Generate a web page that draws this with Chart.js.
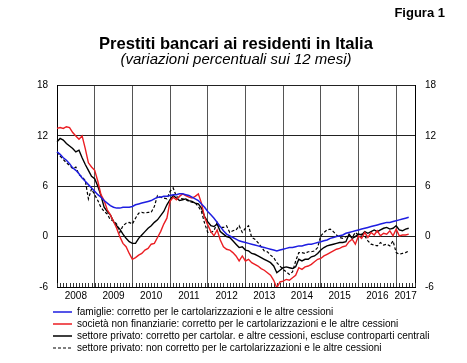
<!DOCTYPE html>
<html lang="it">
<head>
	<title>Prestiti bancari ai residenti in Italia</title>
	<meta charset="utf-8">
	<script src="https://cdnjs.cloudflare.com/ajax/libs/Chart.js/4.4.1/chart.umd.min.js"></script>
	<style type="text/css">
		body { margin: 0; background: #fff; }
		#wrap { position: relative; width: 467px; height: 363px; }
		#figura {
			position: absolute; right: 22px; top: 5px;
			font: bold 13px "Liberation Sans", Arial, sans-serif; color: #000;
		}
	</style>
</head>
<body>
<div id="wrap">
	<div id="figura">Figura 1</div>
	<canvas id="prestiti-canvas" width="467" height="363"></canvas>
</div>
<script type="text/javascript">
	// anni e mesi dell'asse orizzontale (gen 2008 - lug 2017)
	var anni = ["2008", "2009", "2010", "2011", "2012", "2013", "2014", "2015", "2016", "2017"];
	var mesi = ["gen", "feb", "mar", "apr", "mag", "giu", "lug", "ago", "set", "ott", "nov", "dic"];
	// posizione (indice del mese) dell'etichetta di ogni anno
	var posAnni = [6, 18, 30, 42, 54, 66, 78, 90, 102, 111];
	var yTicks = [-6, 0, 6, 12, 18];

	// variazioni percentuali sui 12 mesi, dati mensili da gen 2008 a mag 2017
	var famiglie = [
		10.1, 9.8, 9.4, 9.1, 8.7, 8.2, 7.9, 7.5, 7.0, 6.6, 6.2, 5.8,
		5.4, 5.0, 4.7, 4.3, 4.0, 3.7, 3.5, 3.4, 3.4, 3.5, 3.5, 3.5,
		3.6, 3.8, 3.9, 4.0, 4.1, 4.2, 4.3, 4.5, 4.7, 4.7, 4.8, 4.8,
		4.9, 5.0, 5.0, 5.1, 5.1, 5.0, 4.9, 4.7, 4.5, 4.3, 3.9, 3.5,
		3.0, 2.6, 2.2, 1.7, 1.2, 0.7, 0.3, 0.1, -0.1, -0.3, -0.5, -0.6,
		-0.7, -0.8, -0.9, -1.0, -1.1, -1.2, -1.3, -1.4, -1.5, -1.6, -1.7, -1.6,
		-1.5, -1.4, -1.3, -1.3, -1.2, -1.1, -1.1, -1.0, -0.9, -0.9, -0.8, -0.7,
		-0.6, -0.5, -0.4, -0.2, -0.1, 0.0, 0.1, 0.2, 0.4, 0.5, 0.6, 0.7,
		0.8, 0.9, 1.0, 1.1, 1.2, 1.3, 1.4, 1.5, 1.6, 1.7, 1.7, 1.8,
		1.9, 2.0, 2.1, 2.2, 2.3
	];
	var societa = [
		12.9, 13.0, 12.9, 13.1, 13.0, 12.4, 12.0, 11.6, 12.0, 10.5, 8.8, 8.3,
		7.9, 6.6, 5.0, 4.3, 3.2, 2.6, 1.8, 1.0, 0.0, -0.8, -1.2, -2.0,
		-2.7, -2.5, -2.2, -2.0, -1.6, -1.4, -0.9, -0.8, -0.1, 0.6, 1.5, 2.2,
		4.2, 4.7, 4.4, 4.8, 5.1, 4.9, 4.7, 4.6, 4.8, 5.1, 4.0, 2.3,
		1.4, 0.6, 0.1, 0.8, -0.4, -1.2, -1.5, -1.6, -1.9, -2.3, -2.9, -2.3,
		-2.9, -2.7, -3.1, -3.3, -3.5, -3.8, -4.0, -4.3, -4.6, -5.2, -6.1, -5.4,
		-5.3, -5.1, -5.2, -4.9, -4.6, -3.7, -3.9, -3.6, -3.5, -3.3, -3.0, -2.7,
		-2.6, -2.3, -2.1, -1.9, -1.7, -1.5, -1.4, -1.2, -1.1, -0.6, -0.3, -0.9,
		0.1, -0.2, 0.5, -0.1, 0.5, 0.2, 0.7, 0.1, 0.4, 0.3, 0.7, 0.1,
		0.9, 0.1, 0.2, 0.2, 0.3
	];
	var privatoCorretto = [
		11.3, 11.7, 11.5, 11.1, 10.8, 10.5, 10.1, 10.3, 9.4, 8.6, 7.9, 7.2,
		6.9, 6.0, 4.9, 3.5, 3.0, 2.6, 1.8, 1.3, 0.9, 0.3, -0.2, -0.6,
		-0.8, -0.8, -0.2, 0.2, 0.6, 1.0, 1.3, 1.7, 2.0, 2.5, 3.0, 3.8,
		4.4, 4.9, 4.6, 4.3, 4.4, 4.5, 4.3, 4.2, 4.0, 3.9, 3.4, 2.4,
		1.8, 1.3, 1.2, 1.5, 0.6, 0.3, 0.0, -0.1, -0.5, -0.9, -1.3, -1.2,
		-1.6, -1.7, -2.0, -2.1, -2.3, -2.5, -2.7, -2.9, -3.1, -3.5, -4.3, -4.0,
		-3.7, -3.6, -3.7, -3.8, -3.6, -2.7, -2.9, -2.7, -2.7, -2.4, -2.3, -2.0,
		-1.6, -1.3, -1.1, -1.0, -0.9, -0.8, -0.7, -0.7, -0.6, 0.3, -0.2, 0.0,
		0.3, 0.2, 0.6, 0.4, 0.6, 0.8, 0.6, 0.8, 1.0, 1.1, 0.9, 1.0,
		1.3, 0.8, 0.7, 0.9, 1.0
	];
	var privatoNonCorretto = [
		10.1, 9.6, 9.2, 8.8, 8.5, 8.1, 8.3, 7.4, 7.1, 6.7, 4.5, 5.7,
		5.0, 4.3, 3.5, 3.0, 2.7, 2.0, 1.9, 1.5, 0.5, 1.3, 1.6, 1.7,
		1.5, 2.2, 2.8, 2.9, 2.8, 2.9, 2.9, 3.6, 4.9, 4.7, 4.6, 4.5,
		5.4, 5.8, 4.8, 4.6, 4.5, 4.4, 4.2, 4.1, 4.0, 3.6, 3.0, 1.6,
		0.5, 0.5, 0.7, 1.7, 1.1, 1.1, 1.3, 0.5, 0.7, 0.8, 1.3, 0.5,
		1.0, 1.3, -0.1, -0.3, -0.7, -1.2, -1.7, -1.8, -2.2, -2.5, -3.1, -3.5,
		-3.9, -4.2, -4.5, -4.2, -2.9, -1.9, -1.9, -2.0, -1.8, -1.8, -1.7, -1.3,
		0.1, 0.5, 0.8, 0.9, 0.6, 0.2, -0.1, -0.2, 0.0, 0.1, -0.1, 0.5,
		0.2, 0.3, 0.1, -0.5, -0.9, -1.0, -1.1, -0.7, -1.0, -0.9, -1.1, -0.5,
		-1.9, -2.1, -2.0, -1.9, -1.7
	];

	// categorie mensili: gen 2008 ... lug 2017 (l'asse finisce a metà 2017)
	var categorie = [];
	anni.forEach(function(anno) {
		mesi.forEach(function(mese) {
			categorie.push(mese + " " + anno);
		});
	});
	categorie.length = 115;

	var FONT = "'Liberation Sans', Arial, sans-serif";
	Chart.defaults.font.family = FONT;
	Chart.defaults.color = "#000";

	// piccole tacche mensili sul bordo inferiore, rivolte verso l'interno
	var tacchePlugin = {
		id: "tacche",
		beforeDatasetsDraw: function(chart) {
			var x = chart.scales.x;
			var ctx = chart.ctx;
			var bottom = chart.chartArea.bottom;
			ctx.save();
			ctx.strokeStyle = "#333";
			ctx.lineWidth = 1;
			ctx.beginPath();
			for (var i = 0; i < x.ticks.length; i++) {
				var px = Math.round(x.getPixelForTick(i)) + 0.5;
				ctx.moveTo(px, bottom);
				ctx.lineTo(px, bottom - 4);
			}
			ctx.stroke();
			ctx.restore();
		}
	};

	var ctx = document.querySelector("#prestiti-canvas").getContext("2d");
	var chart = new Chart(ctx, {
		type: "line",
		data: {
			labels: categorie,
			datasets: [{
				label: "famiglie: corretto per le cartolarizzazioni e le altre cessioni",
				data: famiglie,
				borderColor: "rgb(30,30,225)",
				backgroundColor: "rgb(30,30,225)",
				borderWidth: 1.5
			}, {
				label: "società non finanziarie: corretto per le cartolarizzazioni e le altre cessioni",
				data: societa,
				borderColor: "rgb(235,30,35)",
				backgroundColor: "rgb(235,30,35)",
				borderWidth: 1.4
			}, {
				label: "settore privato: corretto per cartolar. e altre cessioni, escluse controparti centrali",
				data: privatoCorretto,
				borderColor: "#000",
				backgroundColor: "#000",
				borderWidth: 1.4
			}, {
				label: "settore privato: non corretto per le cartolarizzazioni e le altre cessioni",
				data: privatoNonCorretto,
				borderColor: "#000",
				backgroundColor: "#000",
				borderWidth: 1.2,
				borderDash: [3, 2]
			}]
		},
		options: {
			responsive: false,
			animation: false,
			layout: { padding: { left: 51, right: 22, top: 0, bottom: 0 } },
			elements: {
				point: { radius: 0, hoverRadius: 0 },
				line: { tension: 0 }
			},
			scales: {
				x: {
					grid: {
						color: function(c) { return c.index % 12 === 0 ? "#555" : "rgba(0,0,0,0)"; },
						drawTicks: false
					},
					border: { display: true, color: "#000" },
					ticks: {
						autoSkip: false,
						maxRotation: 0,
						minRotation: 0,
						padding: 3,
						font: { size: 10 },
						callback: function(value, index) {
							var k = posAnni.indexOf(index);
							return k >= 0 ? anni[k] : "";
						}
					}
				},
				y: {
					position: "left",
					min: yTicks[0],
					max: yTicks[yTicks.length - 1],
					afterBuildTicks: function(scale) {
						scale.ticks = yTicks.map(function(v) { return { value: v }; });
					},
					// asse stretto: le etichette sono spostate a sinistra del bordo
					afterFit: function(scale) { scale.width = 6; },
					grid: { color: "#222", drawTicks: false },
					border: { display: true, color: "#000" },
					ticks: { mirror: true, crossAlign: "far", padding: -20, font: { size: 10 } }
				},
				y2: {
					position: "right",
					min: yTicks[0],
					max: yTicks[yTicks.length - 1],
					afterBuildTicks: function(scale) {
						scale.ticks = yTicks.map(function(v) { return { value: v }; });
					},
					afterFit: function(scale) { scale.width = 30; },
					grid: { drawOnChartArea: false, drawTicks: false },
					border: { display: true, color: "#000" },
					ticks: { padding: 10, font: { size: 10 } }
				}
			},
			plugins: {
				title: {
					display: true,
					fullSize: false,
					text: "Prestiti bancari ai residenti in Italia",
					color: "#000",
					font: { size: 16.6, weight: "bold", lineHeight: 1 },
					padding: { top: 36, bottom: 0 }
				},
				subtitle: {
					display: true,
					fullSize: false,
					text: "(variazioni percentuali sui 12 mesi)",
					color: "#000",
					font: { size: 15, style: "italic", lineHeight: 1 },
					padding: { top: 0, bottom: 18 }
				},
				legend: {
					position: "bottom",
					align: "start",
					labels: {
						boxWidth: 19,
						boxHeight: 0,
						padding: 2,
						color: "#000",
						font: { size: 10 }
					}
				},
				tooltip: { enabled: false }
			}
		},
		plugins: [tacchePlugin]
	});
</script>
</body>
</html>
